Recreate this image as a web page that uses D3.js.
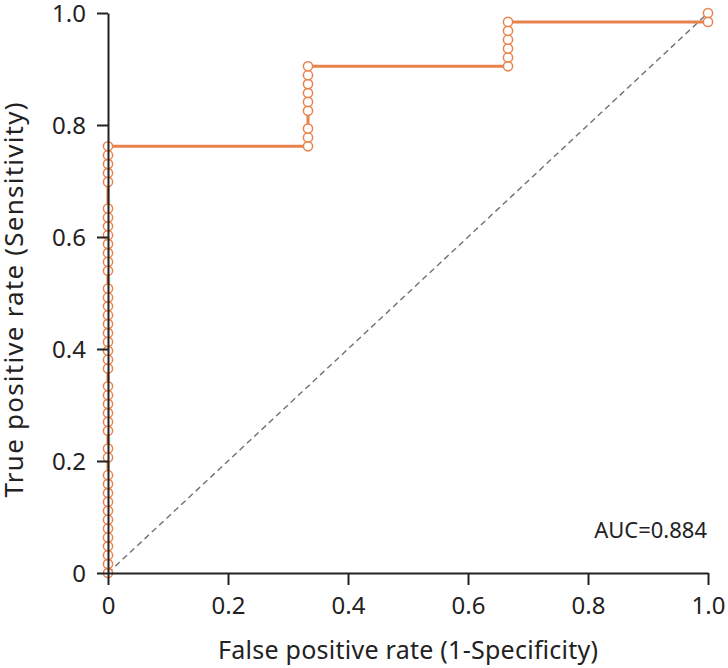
<!DOCTYPE html>
<html><head><meta charset="utf-8">
<script src="https://cdn.jsdelivr.net/npm/d3@7"></script>
<style>html,body{margin:0;padding:0;background:#fff;}svg{display:block;font-family:"Noto Sans",sans-serif;}</style>
</head><body><div id="chart"></div>
<script>
// Data: ROC curve with 63 positives, 3 negatives
const nPos = 63;
const fprSteps = [0, 1/3, 2/3, 1];
const tprCountsAtStep = [48, 57, 62, 63];   // max TP count reached at each FPR level
// points (circles) shown at each FPR level, as TP counts
const pointsAtFpr0 = [0,1,2,3,4,5,6,7,8,9,10,11,13,14,16,17,18,19,20,21,23,24,25,26,27,28,29,30,31,32,34,35,36,37,38,39,40,41,44,45,46,47,48];
const pointsAtFpr1 = [48,49,50,52,53,54,55,56,57];
const pointsAtFpr2 = [57,58,59,60,61,62];
const pointsAtFpr3 = [62,63];
const xTicks = [0, 0.2, 0.4, 0.6, 0.8, 1.0];
const yTicks = [0, 0.2, 0.4, 0.6, 0.8, 1.0];
const aucLabel = "AUC=0.884";
const xTitle = "False positive rate (1-Specificity)";
const yTitle = "True positive rate (Sensitivity)";

const W = 728, H = 668;
const svg = d3.select("#chart").append("svg").attr("width", W).attr("height", H);
const x = d3.scaleLinear().domain([0,1]).range([108, 708]);
const y = d3.scaleLinear().domain([0,1]).range([573, 13]);
const orange = "#E8824C";
const ink = "#222";
const fmt = d => d === 0 ? "0" : d3.format(".1f")(d);

// diagonal
svg.append("line").attr("x1", x(0)).attr("y1", y(0)).attr("x2", x(1)).attr("y2", y(1))
  .attr("stroke", "#707070").attr("stroke-width", 1.4).attr("stroke-dasharray", "6,4");

// step line
const pathPts = [[0,0]];
for (let i = 0; i < fprSteps.length; i++) {
  pathPts.push([fprSteps[i], tprCountsAtStep[i]/nPos]);
  if (i + 1 < fprSteps.length) pathPts.push([fprSteps[i+1], tprCountsAtStep[i]/nPos]);
}
svg.append("path").attr("d", d3.line().x(d => x(d[0])).y(d => y(d[1]))(pathPts))
  .attr("fill", "none").attr("stroke", orange).attr("stroke-width", 3);

// points
const pts = [];
pointsAtFpr0.forEach(k => pts.push([fprSteps[0], k/nPos]));
pointsAtFpr1.forEach(k => pts.push([fprSteps[1], k/nPos]));
pointsAtFpr2.forEach(k => pts.push([fprSteps[2], k/nPos]));
pointsAtFpr3.forEach(k => pts.push([fprSteps[3], k/nPos]));
svg.append("g").selectAll("circle").data(pts).join("circle")
  .attr("cx", d => x(d[0])).attr("cy", d => y(d[1])).attr("r", 4.6)
  .attr("fill", "#fff").attr("stroke", orange).attr("stroke-width", 1.5);

// axes
const xAxis = svg.append("g").attr("transform", `translate(0,${y(0)})`)
  .call(d3.axisBottom(x).tickValues(xTicks).tickFormat(fmt).tickSize(12).tickSizeOuter(0).tickPadding(12));
const yAxis = svg.append("g").attr("transform", `translate(${x(0)},0)`)
  .call(d3.axisLeft(y).tickValues(yTicks).tickFormat(fmt).tickSize(11).tickSizeOuter(0).tickPadding(11));
[xAxis, yAxis].forEach(g => {
  g.selectAll("path,line").attr("stroke", ink).attr("stroke-width", 2);
  g.selectAll("text").attr("font-family", "Noto Sans, sans-serif").attr("font-size", 24).attr("fill", ink);
});
yAxis.selectAll("text").attr("dy", "0.34em");

// AUC label
svg.append("text").attr("x", 707).attr("y", 538).attr("text-anchor", "end")
  .attr("font-size", 22).attr("fill", ink).text(aucLabel);

// titles
svg.append("text").attr("x", 408).attr("y", 659).attr("text-anchor", "middle")
  .attr("font-size", 25).attr("fill", ink)
  .attr("textLength", 380).attr("lengthAdjust", "spacing").text(xTitle);
svg.append("text").attr("transform", "translate(23,300) rotate(-90)").attr("text-anchor", "middle")
  .attr("font-size", 26).attr("fill", ink)
  .attr("textLength", 395).attr("lengthAdjust", "spacing").text(yTitle);
</script></body></html>
